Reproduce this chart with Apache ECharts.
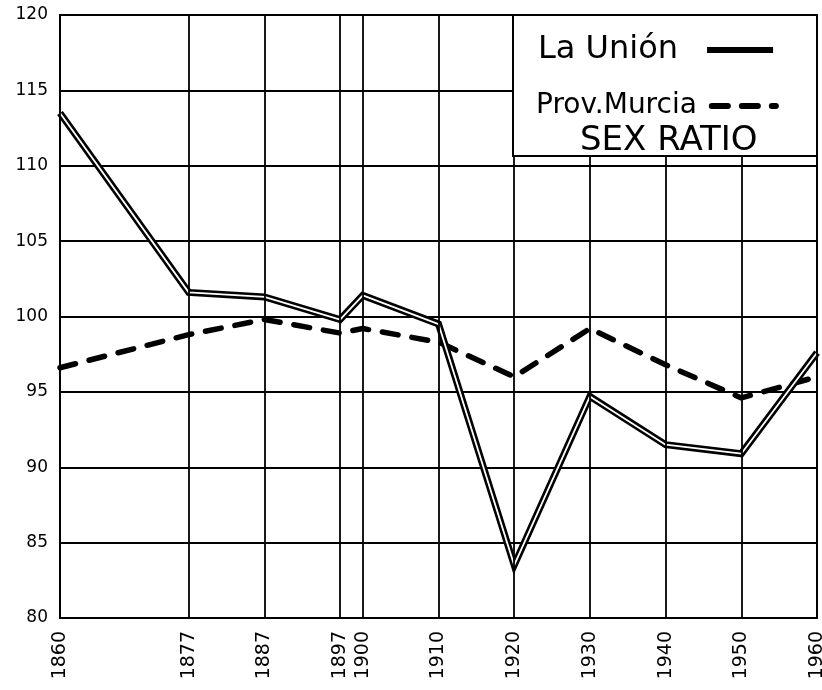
<!DOCTYPE html>
<html>
<head>
<meta charset="utf-8">
<script src="https://cdn.jsdelivr.net/npm/echarts@6/dist/echarts.min.js"></script>
<style>html,body{margin:0;padding:0;background:#fff}#c{width:822px;height:690px}</style>
</head>
<body>
<div id="c"></div>
<script>
var years = [1860, 1877, 1887, 1897, 1900, 1910, 1920, 1930, 1940, 1950, 1960];
var laUnion = [113.5, 101.6, 101.3, 99.8, 101.4, 99.5, 83.5, 94.7, 91.5, 90.9, 97.6];
var provMurcia = [96.6, 98.8, 99.8, 98.9, 99.2, 98.3, 96.0, 99.2, 96.8, 94.6, 96.0];
var yTicks = [80, 85, 90, 95, 100, 105, 110, 115, 120];
var title = 'SEX RATIO';
var nameUnion = 'La Unión';
var nameMurcia = 'Prov.Murcia';

function pairs(xs, ys) { return xs.map(function (x, i) { return [x, ys[i]]; }); }

var FONT = 'DejaVu Sans';
var chart = echarts.init(document.getElementById('c'));
chart.setOption({
  animation: false,
  backgroundColor: '#fff',
  grid: { left: 60, right: 5, top: 15, bottom: 72, outerBoundsMode: 'none', containLabel: false,
    show: true, borderColor: '#000', borderWidth: 2, backgroundColor: 'transparent' },
  title: { text: title, left: 575, top: 119, zlevel: 2, textStyle: { fontFamily: FONT, fontWeight: 'normal', fontSize: 34, color: '#000' } },
  legend: [
    { data: [nameUnion], left: 533, top: 29, align: 'right', itemWidth: 66, itemHeight: 12, zlevel: 2,
      lineStyle: { width: 6, color: '#000' }, itemStyle: { opacity: 0 },
      textStyle: { fontFamily: FONT, fontSize: 32, color: '#000', padding: [0, 24, 0, 0] } },
    { data: [nameMurcia], left: 531, top: 87, align: 'right', itemWidth: 64, itemHeight: 12, zlevel: 2,
      lineStyle: { width: 6, color: '#000' }, itemStyle: { opacity: 0 },
      textStyle: { fontFamily: FONT, fontSize: 28, color: '#000', padding: [0, 10, 0, 0] } }
  ],
  graphic: [
    { type: 'rect', zlevel: 1, z: 100, shape: { x: 513, y: 15, width: 304, height: 141 }, style: { fill: '#fff', stroke: '#000', lineWidth: 2 } }
  ],
  xAxis: {
    type: 'value', min: 1860, max: 1960,
    axisLine: { show: true, lineStyle: { color: '#000', width: 2 } },
    axisTick: { show: false },
    splitLine: { show: false },
    axisLabel: { customValues: years, rotate: 90, margin: 13, fontFamily: FONT, fontSize: 19, color: '#000',
      formatter: function (v) { return String(v); } }
  },
  yAxis: {
    type: 'value', min: 80, max: 120, interval: 5,
    axisLine: { show: true, lineStyle: { color: '#000', width: 2 } },
    axisTick: { show: false },
    splitLine: { show: true, lineStyle: { color: '#000', width: 1.8 } },
    axisLabel: { margin: 12, fontFamily: FONT, fontSize: 17, color: '#000',
      formatter: function (v) { return yTicks.indexOf(v) >= 0 ? String(v) : ''; } }
  },
  series: [
    { name: '_grid', type: 'line', data: [], silent: true,
      markLine: { silent: true, symbol: 'none', label: { show: false },
        lineStyle: { color: '#000', width: 1.8, type: 'solid' },
        data: years.map(function (y) { return { xAxis: y }; }) } },
    { name: nameMurcia, type: 'line', data: pairs(years, provMurcia), symbol: 'none', z: 3,
      itemStyle: { color: '#000' },
      lineStyle: { color: '#000', width: 5.5, type: [16, 14], cap: 'round' } },
    { name: nameUnion, type: 'line', data: pairs(years, laUnion), symbol: 'none', z: 3,
      itemStyle: { color: '#000' },
      lineStyle: { color: '#000', width: 7, join: 'miter' } },
    { name: '_unionInner', type: 'line', data: pairs(years, laUnion), symbol: 'none', z: 4, silent: true,
      lineStyle: { color: '#fff', width: 1.8 } }
  ]
});
</script>
</body>
</html>
